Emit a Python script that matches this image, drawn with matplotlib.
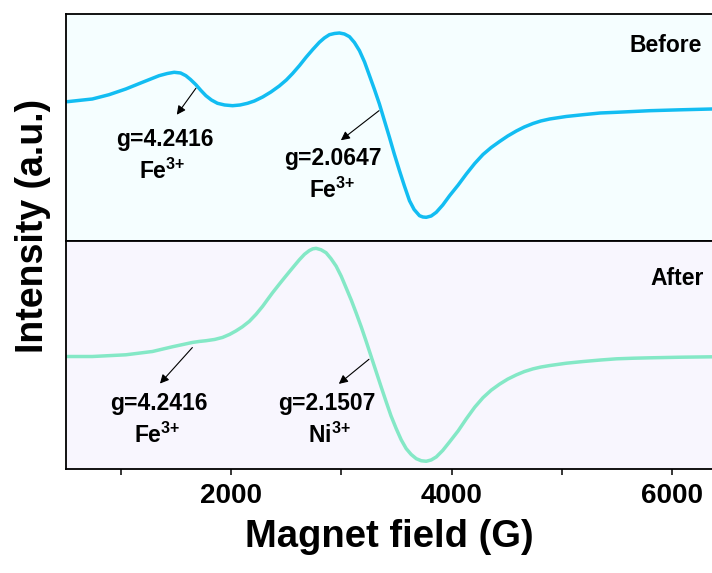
import matplotlib
matplotlib.use("Agg")
import matplotlib.pyplot as plt
from matplotlib.ticker import MultipleLocator

plt.rcParams['font.family'] = ['Liberation Sans', 'DejaVu Sans']
plt.rcParams['font.weight'] = 'bold'
plt.rcParams['mathtext.fontset'] = 'custom'
plt.rcParams['mathtext.rm'] = 'Liberation Sans:bold'
plt.rcParams['mathtext.bf'] = 'Liberation Sans:bold'

# EPR spectra (field in G, intensity in arbitrary units)
field_before = [512, 739, 891, 1043, 1194, 1345, 1420, 1482, 1540, 1588, 1630,
                1679, 1725, 1770, 1820, 1875, 1940, 2012, 2080, 2148, 2210,
                2285, 2360, 2436, 2500, 2557, 2620, 2679, 2740, 2800, 2845,
                2891, 2937, 2982, 3027, 3073, 3118, 3164, 3210, 3255, 3300,
                3345, 3390, 3436, 3480, 3527, 3572, 3618, 3660, 3709, 3740,
                3770, 3815, 3861, 3920, 3982, 4060, 4134, 4210, 4285, 4360,
                4436, 4510, 4588, 4660, 4739, 4810, 4891, 5040, 5194, 5350,
                5497, 5650, 5800, 6080, 6364]
int_before = [139.3, 142, 146.3, 152, 158.7, 165.3, 167.5, 168.7, 168, 165.3, 161.5,
              156.3, 150.5, 145.3, 141, 137.7, 136, 135.3, 136, 137.7, 140,
              144, 149, 155, 161, 167.5, 175.5, 183.7, 191.5, 198.7, 203,
              206.3, 207.5, 208, 207, 204.3, 198.5, 190.3, 179, 165.3, 151.5,
              137, 120.5, 103.7, 87, 70.3, 55, 40.3, 31.5, 25.3, 24,
              23.7, 25, 28.7, 36, 45.3, 56, 67, 77.5, 86.5, 93.5,
              99.5, 105, 110, 114, 117.5, 120, 122, 124.5, 126.3, 128,
              128.7, 129.5, 130.3, 131.2, 132]

field_after = [512, 739, 1043, 1285, 1466, 1648, 1710, 1770, 1850, 1921, 1985,
               2043, 2100, 2164, 2225, 2285, 2330, 2375, 2436, 2480, 2527,
               2570, 2618, 2665, 2709, 2740, 2770, 2815, 2861, 2905, 2952,
               2998, 3043, 3090, 3134, 3180, 3225, 3270, 3315, 3360, 3406,
               3450, 3497, 3543, 3588, 3633, 3679, 3725, 3770, 3815, 3861,
               3920, 3982, 4060, 4134, 4210, 4285, 4360, 4436, 4510, 4588,
               4660, 4739, 4810, 4891, 5040, 5194, 5350, 5497, 5650, 5800,
               6080, 6364]
int_after = [112, 112, 113.7, 117, 121.7, 126, 127, 127.7, 129, 131, 134,
             137.5, 141.5, 147, 154, 162, 168.8, 175.5, 184, 190, 196.3,
             202, 208.3, 213.8, 217.5, 219.2, 219.7, 218.3, 215.3, 209.5, 202,
             192, 180.3, 168, 155.3, 141.5, 127, 112, 97, 82, 67,
             53, 40.3, 29, 20.3, 14.5, 10.3, 8.2, 7.7, 9, 12,
             18.5, 27, 38, 50, 61.5, 71, 78.5, 84.5, 89.5, 93.7,
             97, 99.7, 101.5, 103, 105.3, 107, 108.5, 109.7, 110.3, 110.7,
             111.3, 111.7]

fig = plt.figure(figsize=(7.12, 5.73), dpi=100)
ax1 = fig.add_axes([0.0927, 0.5794, 0.9073, 0.3962])
ax2 = fig.add_axes([0.0927, 0.1815, 0.9073, 0.3979], sharex=ax1)

ax1.set_facecolor('#f5feff')
ax2.set_facecolor('#f8f6fe')

ax1.plot(field_before, int_before, color='#12bdf2', lw=2.5,
         solid_capstyle='round', solid_joinstyle='round')
ax2.plot(field_after, int_after, color='#84e8c6', lw=2.5,
         solid_capstyle='round', solid_joinstyle='round')

for ax in (ax1, ax2):
    ax.set_xlim(500, 6364)
    ax.set_ylim(0, 227)
    ax.set_yticks([])
    ax.spines['right'].set_visible(False)
    for s in ('left', 'top', 'bottom'):
        ax.spines[s].set_linewidth(1.3)

ax1.tick_params(axis='x', which='both', bottom=False, labelbottom=False)
ax2.xaxis.set_major_locator(MultipleLocator(2000))
ax2.xaxis.set_minor_locator(MultipleLocator(1000))
ax2.tick_params(axis='x', which='both', direction='out', length=4, width=1.1)
ax2.tick_params(axis='x', which='major', labelsize=20, pad=6)
ax2.set_xlabel('Magnet field (G)', fontsize=27.5, fontweight='bold', labelpad=7)
fig.text(0.047, 1 - 226 / 573, 'Intensity (a.u.)', rotation=90, fontsize=27,
         fontweight='bold', ha='center', va='center')

arrow = dict(arrowstyle='-|>', color='black', lw=0.8, mutation_scale=13)
tsize = 16.5

# Before panel
ax1.annotate('', xy=(1491, 124), xytext=(1694, 155), arrowprops=arrow)
ax1.text(1400, 101, 'g=4.2416', fontsize=tsize, ha='center', va='center')
ax1.text(1376, 70, r'Fe$^{3{+}}$', fontsize=tsize, ha='center', va='center')
ax1.annotate('', xy=(2975, 99), xytext=(3361, 132), arrowprops=arrow)
ax1.text(2921, 82, 'g=2.0647', fontsize=tsize, ha='center', va='center')
ax1.text(2921, 51, r'Fe$^{3{+}}$', fontsize=tsize, ha='center', va='center')
ax1.text(6270, 195, 'Before', fontsize=tsize, ha='right', va='center')

# After panel
ax2.annotate('', xy=(1336, 83), xytext=(1664, 123), arrowprops=arrow)
ax2.text(1339, 65, 'g=4.2416', fontsize=tsize, ha='center', va='center')
ax2.text(1330, 34, r'Fe$^{3{+}}$', fontsize=tsize, ha='center', va='center')
ax2.annotate('', xy=(2957, 83), xytext=(3270, 111), arrowprops=arrow)
ax2.text(2869, 65, 'g=2.1507', fontsize=tsize, ha='center', va='center')
ax2.text(2886, 34, r'Ni$^{3{+}}$', fontsize=tsize, ha='center', va='center')
ax2.text(6290, 190, 'After', fontsize=tsize, ha='right', va='center')

fig.savefig('out.png', dpi=100)
